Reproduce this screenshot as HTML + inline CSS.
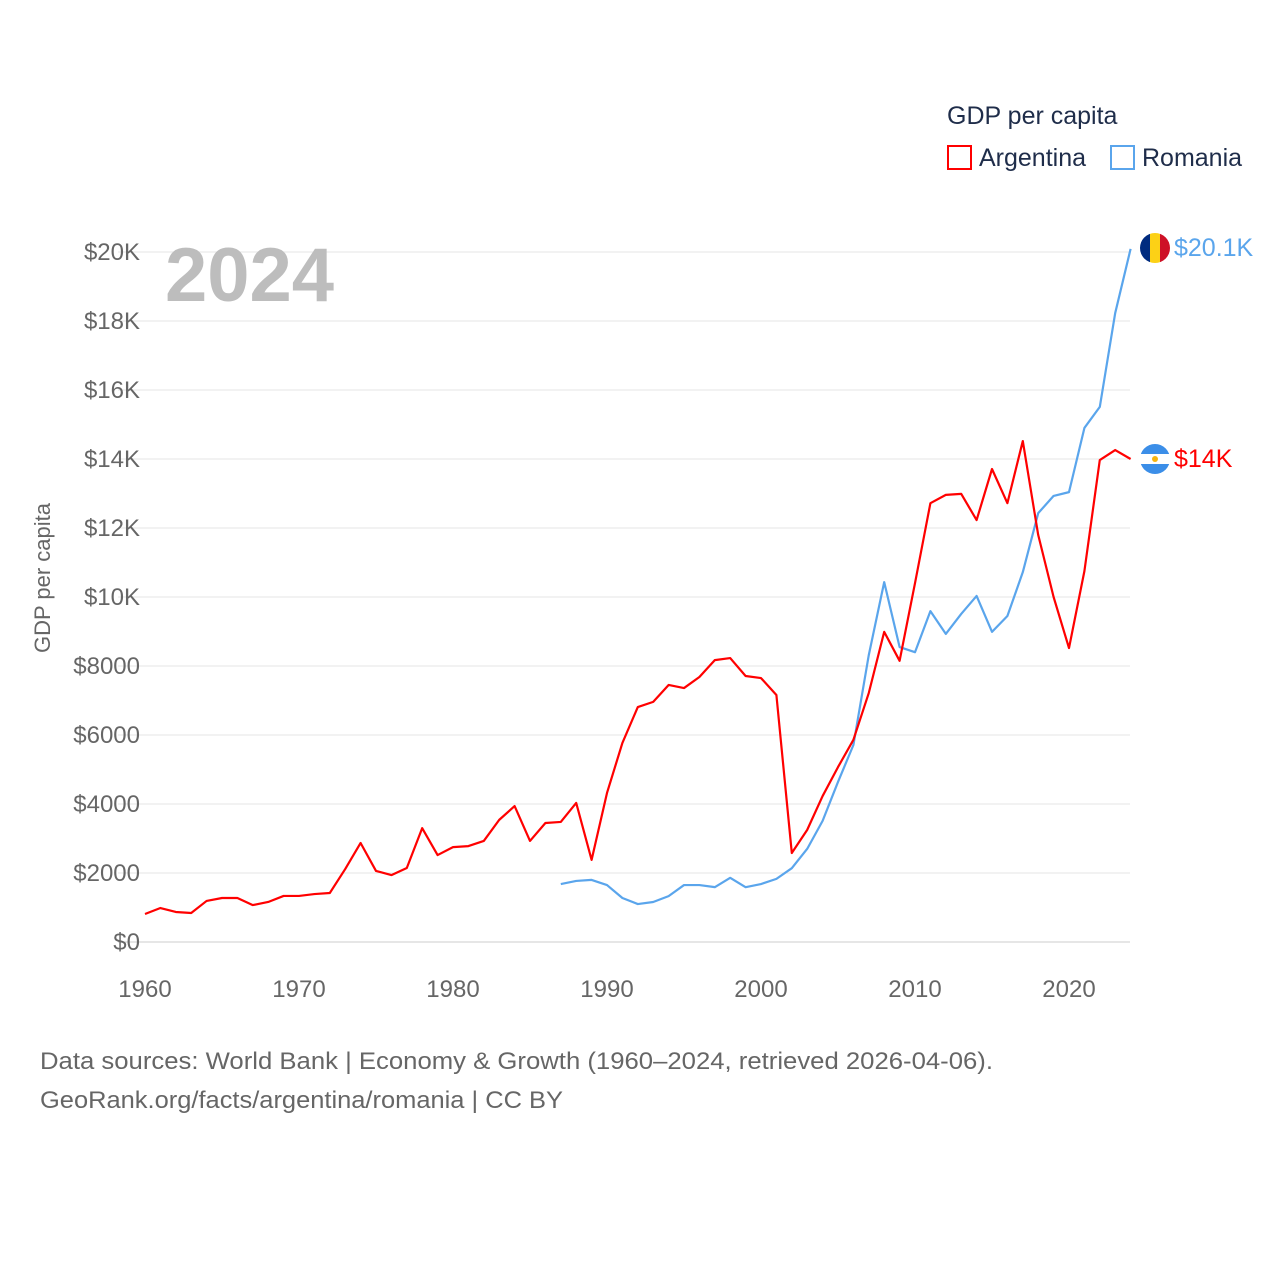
<!DOCTYPE html>
<html><head><meta charset="utf-8"><style>
body{margin:0;background:#fff;}
svg text{font-family:"Liberation Sans",sans-serif;}
</style></head><body>
<svg width="1280" height="1280" viewBox="0 0 1280 1280" xmlns="http://www.w3.org/2000/svg">
<rect width="1280" height="1280" fill="#fff"/>
<g id="grid"></g>
<g id="yticks"></g>
<g id="xticks"></g>
<text x="165" y="301" font-size="76" font-weight="bold" fill="#bdbdbd">2024</text>
<text transform="translate(50,578) rotate(-90)" text-anchor="middle" font-size="22" fill="#666">GDP per capita</text>
<g id="series"></g>
<g>
<text x="947" y="124" font-size="25" fill="#1f2d4a">GDP per capita</text>
<g><rect x="948" y="146" width="23" height="23" fill="none" stroke="#ff0000" stroke-width="2"/><text x="979" y="166" font-size="25" fill="#1f2d4a">Argentina</text></g>
<g><rect x="1111" y="146" width="23" height="23" fill="none" stroke="#5aa5ec" stroke-width="2"/><text x="1142" y="166" font-size="25" fill="#1f2d4a">Romania</text></g>
</g>
<g>
<clipPath id="cr"><circle cx="1155" cy="248" r="15"/></clipPath>
<g clip-path="url(#cr)"><rect x="1140" y="233" width="10" height="30" fill="#002b7f"/><rect x="1150" y="233" width="10" height="30" fill="#fcd116"/><rect x="1160" y="233" width="10" height="30" fill="#ce1126"/></g>
</g>
<text x="1174" y="256" font-size="25" fill="#5aa5ec">$20.1K</text>
<g>
<clipPath id="ca"><circle cx="1155" cy="459" r="15"/></clipPath>
<g clip-path="url(#ca)"><rect x="1140" y="444" width="30" height="10" fill="#3b8ee8"/><rect x="1140" y="454" width="30" height="10" fill="#fff"/><rect x="1140" y="464" width="30" height="10" fill="#3b8ee8"/><circle cx="1155" cy="459" r="3" fill="#f6b40e"/></g>
</g>
<text x="1174" y="467" font-size="25" fill="#ff0000">$14K</text>
<text x="40" y="1069" font-size="24" fill="#666" textLength="953" lengthAdjust="spacingAndGlyphs">Data sources: World Bank | Economy &amp; Growth (1960–2024, retrieved 2026-04-06).</text>
<text x="40" y="1108" font-size="24" fill="#666" textLength="523" lengthAdjust="spacingAndGlyphs">GeoRank.org/facts/argentina/romania | CC BY</text>
</svg>
<script>
const yTickValues=[0,2000,4000,6000,8000,10000,12000,14000,16000,18000,20000];
const yTickLabels=["$0","$2000","$4000","$6000","$8000","$10K","$12K","$14K","$16K","$18K","$20K"];
const xTickValues=[1960,1970,1980,1990,2000,2010,2020];
const argYears=[1960,1961,1962,1963,1964,1965,1966,1967,1968,1969,1970,1971,1972,1973,1974,1975,1976,1977,1978,1979,1980,1981,1982,1983,1984,1985,1986,1987,1988,1989,1990,1991,1992,1993,1994,1995,1996,1997,1998,1999,2000,2001,2002,2003,2004,2005,2006,2007,2008,2009,2010,2011,2012,2013,2014,2015,2016,2017,2018,2019,2020,2021,2022,2023,2024];
const argValues=[812,985,870,840,1190,1275,1275,1070,1160,1335,1335,1390,1420,2115,2870,2060,1940,2145,3300,2520,2750,2780,2930,3540,3940,2930,3450,3480,4030,2380,4320,5770,6810,6960,7450,7360,7680,8170,8230,7710,7650,7160,2580,3250,4230,5070,5860,7220,8990,8150,10400,12720,12960,12990,12230,13710,12720,14520,11800,10000,8520,10750,13970,14260,14000];
const roYears=[1987,1988,1989,1990,1991,1992,1993,1994,1995,1996,1997,1998,1999,2000,2001,2002,2003,2004,2005,2006,2007,2008,2009,2010,2011,2012,2013,2014,2015,2016,2017,2018,2019,2020,2021,2022,2023,2024];
const roValues=[1680,1770,1800,1650,1275,1100,1160,1330,1650,1650,1590,1860,1590,1680,1830,2140,2700,3510,4640,5710,8320,10430,8550,8400,9590,8930,9510,10030,8990,9450,10720,12430,12930,13040,14900,15510,18230,20090];
const NS="http://www.w3.org/2000/svg";
function xs(y){return 145+(y-1960)*924/60;}
function ys(v){return 942-v*690/20000;}
const grid=document.getElementById('grid'),yt=document.getElementById('yticks'),xt=document.getElementById('xticks'),se=document.getElementById('series');
yTickValues.forEach((v,i)=>{
 const l=document.createElementNS(NS,'line');
 l.setAttribute('x1',118);l.setAttribute('x2',1130);l.setAttribute('y1',ys(v));l.setAttribute('y2',ys(v));
 l.setAttribute('stroke',i==0?'#ccc':'#e6e6e6');l.setAttribute('stroke-width',1);
 
 
 grid.appendChild(l);
 const t=document.createElementNS(NS,'text');
 t.setAttribute('x',140);t.setAttribute('y',ys(v)+8);t.setAttribute('text-anchor','end');t.setAttribute('font-size',24);t.setAttribute('fill','#666');
 t.textContent=yTickLabels[i];
 
 
 yt.appendChild(t);
});
xTickValues.forEach(v=>{
 const t=document.createElementNS(NS,'text');
 t.setAttribute('x',xs(v));t.setAttribute('y',997);t.setAttribute('text-anchor','middle');t.setAttribute('font-size',24);t.setAttribute('fill','#666');
 t.textContent=v;
 
 
 xt.appendChild(t);
});
function line(years,vals,color,name){
 const p=document.createElementNS(NS,'polyline');
 p.setAttribute('points',years.map((y,i)=>xs(y)+','+ys(vals[i])).join(' '));
 p.setAttribute('fill','none');p.setAttribute('stroke',color);p.setAttribute('stroke-width',2.2);p.setAttribute('stroke-linejoin','round');
 
 
 se.appendChild(p);
}
line(roYears,roValues,'#5aa5ec','romania-line');
line(argYears,argValues,'#ff0000','argentina-line');
</script>
</body></html>
